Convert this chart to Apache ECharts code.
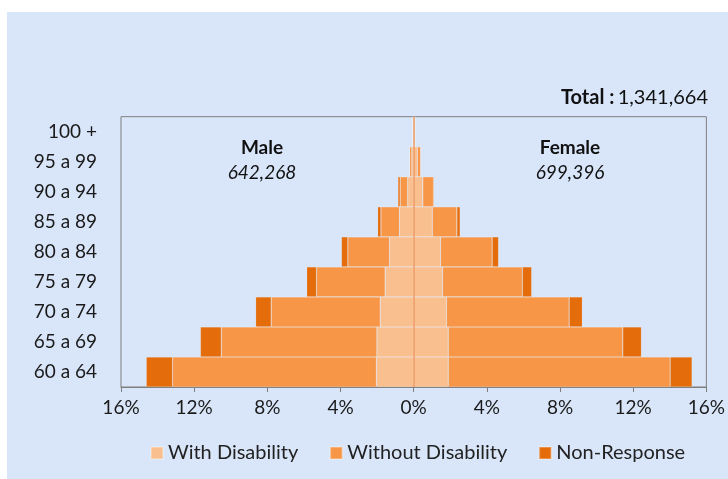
<!DOCTYPE html>
<html>
<head>
<meta charset="utf-8">
<script src="https://cdn.jsdelivr.net/npm/echarts@6/dist/echarts.min.js"></script>
<style>
  html, body { margin: 0; padding: 0; background: #ffffff; }
  #chart { position: absolute; left: 7px; top: 12px; width: 721px; height: 467px; background: #d9e6fa; }
</style>
</head>
<body>
<div id="chart"></div>
<script>
// Age groups, youngest at the bottom
const ageGroups = ['60 a 64', '65 a 69', '70 a 74', '75 a 79', '80 a 84', '85 a 89', '90 a 94', '95 a 99', '100 +'];

// Share of total population (%) per age group
const maleWithDisability    = [2.04, 2.01, 1.83, 1.56, 1.32, 0.78, 0.33, 0.10, 0.03];
const maleWithoutDisability = [11.14, 8.51, 5.96, 3.75, 2.28, 1.01, 0.41, 0.12, 0.03];
const maleNonResponse       = [1.44, 1.14, 0.85, 0.54, 0.35, 0.18, 0.12, 0.02, 0.01];

const femaleWithDisability    = [1.89, 1.89, 1.79, 1.58, 1.47, 1.02, 0.50, 0.20, 0.05];
const femaleWithoutDisability = [12.13, 9.54, 6.71, 4.36, 2.82, 1.34, 0.58, 0.18, 0.04];
const femaleNonResponse       = [1.20, 1.02, 0.72, 0.51, 0.35, 0.18, 0.05, 0.02, 0.01];

const xTicks = [-16, -12, -8, -4, 0, 4, 8, 12, 16];

const totalPopulation = '1,341,664';
const malePopulation = '642,268';
const femalePopulation = '699,396';

const colors = {
  withDis: '#f9bf8f',
  withoutDis: '#f79646',
  nonResp: '#e46c0a'
};

const FONT = 'Lato, "Open Sans", sans-serif';

const chart = echarts.init(document.getElementById('chart'), null, { renderer: 'canvas' });

function barSeries(name, stack, values, color, negate) {
  return {
    name: name,
    type: 'bar',
    stack: stack,
    barWidth: '100%',
    barGap: '-100%',
    data: values.map(v => negate ? -v : v),
    itemStyle: { color: color, borderColor: 'rgba(255,255,255,0.25)', borderWidth: 0.6 },
    emphasis: { disabled: true }
  };
}

const series = [
  barSeries('With Disability', 'male', maleWithDisability, colors.withDis, true),
  barSeries('Without Disability', 'male', maleWithoutDisability, colors.withoutDis, true),
  barSeries('Non-Response', 'male', maleNonResponse, colors.nonResp, true),
  barSeries('With Disability', 'female', femaleWithDisability, colors.withDis, false),
  barSeries('Without Disability', 'female', femaleWithoutDisability, colors.withoutDis, false),
  barSeries('Non-Response', 'female', femaleNonResponse, colors.nonResp, false)
];

// Zero line between the two halves of the pyramid
series[5].markLine = {
  silent: true,
  symbol: 'none',
  label: { show: false },
  lineStyle: { color: 'rgba(240,150,90,0.7)', width: 2, type: 'solid' },
  data: [{ xAxis: 0 }]
};

const option = {
  animation: false,
  textStyle: { fontFamily: FONT },
  grid: {
    left: 114, right: 18, top: 104.7, bottom: 92,
    show: true, borderColor: '#7f7f7f', borderWidth: 1, backgroundColor: 'transparent'
  },
  legend: {
    data: ['With Disability', 'Without Disability', 'Non-Response'],
    bottom: 11,
    left: 138,
    icon: 'rect',
    itemWidth: 12,
    itemHeight: 12,
    itemGap: 31,
    textStyle: { fontFamily: FONT, fontSize: 20, color: '#222' }
  },
  xAxis: {
    type: 'value',
    min: xTicks[0],
    max: xTicks[xTicks.length - 1],
    interval: 4,
    splitLine: { show: false },
    axisLine: { show: true, lineStyle: { color: '#7f7f7f' } },
    axisTick: { show: true, length: 5, lineStyle: { color: '#7f7f7f' } },
    axisLabel: {
      fontFamily: FONT, fontSize: 19, color: '#1a1a1a', margin: 11,
      formatter: v => Math.abs(v) + '%'
    }
  },
  yAxis: {
    type: 'category',
    data: ageGroups,
    axisLine: { show: false },
    axisTick: { show: false },
    axisLabel: { fontFamily: FONT, fontSize: 19, color: '#1a1a1a', margin: 24 }
  },
  graphic: [
    {
      type: 'text', right: 20, top: 76,
      style: {
        text: '{b|Total :} {n|' + totalPopulation + '}',
        rich: {
          b: { fontFamily: FONT, fontSize: 20, fontWeight: 'bold', fill: '#111' },
          n: { fontFamily: FONT, fontSize: 20, fill: '#111' }
        }
      }
    },
    {
      type: 'text', x: 255, y: 136,
      style: { text: 'Male', fontFamily: FONT, fontSize: 19, fontWeight: 'bold', fill: '#111', textAlign: 'center', textVerticalAlign: 'middle' }
    },
    {
      type: 'text', x: 255, y: 161,
      style: { text: malePopulation, fontFamily: FONT, fontSize: 19, fontStyle: 'italic', fill: '#111', textAlign: 'center', textVerticalAlign: 'middle' }
    },
    {
      type: 'text', x: 563, y: 136,
      style: { text: 'Female', fontFamily: FONT, fontSize: 19, fontWeight: 'bold', fill: '#111', textAlign: 'center', textVerticalAlign: 'middle' }
    },
    {
      type: 'text', x: 563, y: 161,
      style: { text: femalePopulation, fontFamily: FONT, fontSize: 19, fontStyle: 'italic', fill: '#111', textAlign: 'center', textVerticalAlign: 'middle' }
    }
  ],
  series: series
};

chart.setOption(option);
</script>
</body>
</html>
